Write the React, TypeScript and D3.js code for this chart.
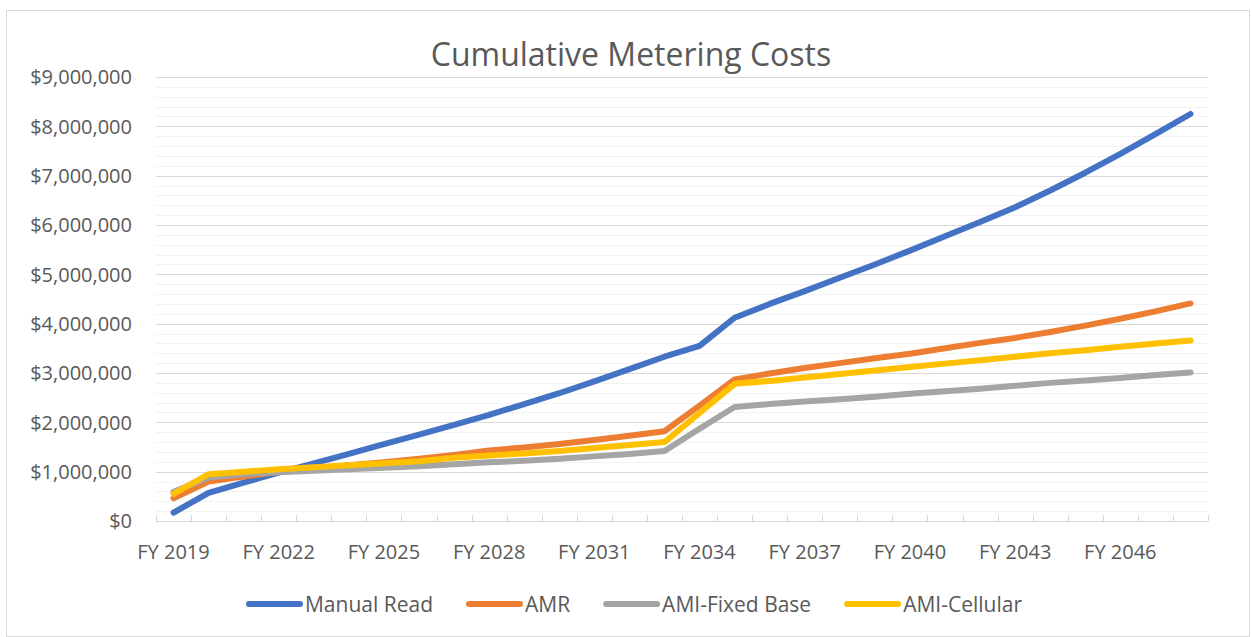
import React from "react";
import * as d3 from "d3";

const categories = [
  "FY 2019", "FY 2020", "FY 2021", "FY 2022", "FY 2023", "FY 2024", "FY 2025", "FY 2026", "FY 2027", "FY 2028",
  "FY 2029", "FY 2030", "FY 2031", "FY 2032", "FY 2033", "FY 2034", "FY 2035", "FY 2036", "FY 2037", "FY 2038",
  "FY 2039", "FY 2040", "FY 2041", "FY 2042", "FY 2043", "FY 2044", "FY 2045", "FY 2046", "FY 2047", "FY 2048",
];

const manualRead = [
  170000, 570000, 780000, 980000, 1170000, 1360000, 1560000, 1750000, 1950000, 2150000,
  2370000, 2590000, 2830000, 3080000, 3330000, 3550000, 4120000, 4400000, 4660000, 4930000,
  5200000, 5480000, 5770000, 6060000, 6360000, 6700000, 7060000, 7440000, 7840000, 8250000,
];
const amr = [
  460000, 800000, 900000, 1000000, 1070000, 1130000, 1190000, 1260000, 1340000, 1430000,
  1490000, 1560000, 1640000, 1730000, 1820000, 2340000, 2870000, 2990000, 3100000, 3200000,
  3300000, 3390000, 3500000, 3610000, 3710000, 3830000, 3960000, 4100000, 4250000, 4410000,
];
const amiFixedBase = [
  590000, 880000, 950000, 990000, 1020000, 1050000, 1080000, 1110000, 1150000, 1190000,
  1220000, 1260000, 1310000, 1360000, 1420000, 1870000, 2310000, 2370000, 2420000, 2470000,
  2520000, 2580000, 2630000, 2680000, 2740000, 2800000, 2850000, 2900000, 2960000, 3010000,
];
const amiCellular = [
  550000, 950000, 1000000, 1050000, 1090000, 1130000, 1170000, 1210000, 1280000, 1330000,
  1370000, 1420000, 1480000, 1540000, 1600000, 2190000, 2780000, 2840000, 2910000, 2980000,
  3050000, 3120000, 3190000, 3260000, 3330000, 3400000, 3460000, 3530000, 3600000, 3660000,
];

const seriesNames = ["Manual Read", "AMR", "AMI-Fixed Base", "AMI-Cellular"];
const seriesColors = ["#4472C4", "#ED7D31", "#A5A5A5", "#FFC000"];
const seriesValues = [manualRead, amr, amiFixedBase, amiCellular];

const yMax = 9000000;
const majorStep = 1000000;
const minorStep = 200000;
const xLabelEvery = 3;

const W = 1252;
const H = 637;
const FONT = "'Open Sans', 'DejaVu Sans', sans-serif";
const TEXT = "#595959";

function measure(text: string, size: number): number {
  if (typeof document === "undefined") return text.length * size * 0.55;
  const c = document.createElement("canvas");
  const ctx = c.getContext("2d");
  if (!ctx) return text.length * size * 0.55;
  ctx.font = `${size}px 'Open Sans'`;
  return ctx.measureText(text).width;
}

export default function App() {
  const plotLeft = 156;
  const plotRight = 1208;
  const plotTop = 77;
  const plotBottom = 521;

  const x = d3.scaleBand<string>().domain(categories).range([plotLeft, plotRight]).padding(0);
  const y = d3.scaleLinear().domain([0, yMax]).range([plotBottom, plotTop]);

  const minorTicks = d3.range(0, yMax + 1, minorStep);
  const majorTicks = d3.range(0, yMax + 1, majorStep);
  const fmt = (v: number) => "$" + d3.format(",")(v);

  const line = d3
    .line<number>()
    .x((_, i) => (x(categories[i]) as number) + x.bandwidth() / 2)
    .y((v) => y(v));

  const boundaries = categories.map((c) => x(c) as number).concat([plotRight]);

  // legend layout
  const legendFont = 21;
  const lineLen = 57;
  const lineGap = 2;
  const itemGap = 33;
  const widths = seriesNames.map((n) => lineLen + lineGap + measure(n, legendFont));
  const totalW = widths.reduce((a, b) => a + b, 0) + itemGap * (seriesNames.length - 1);
  const legendCenter = 634;
  let cursor = legendCenter - totalW / 2;
  const legendItems = seriesNames.map((n, i) => {
    const start = cursor;
    cursor += widths[i] + itemGap;
    return { name: n, color: seriesColors[i], start };
  });
  const legendY = 604;

  return (
    <svg
      width={W}
      height={H}
      style={{ position: "absolute", left: 0, top: 0, background: "#fff" }}
      fontFamily={FONT}
    >
      <rect x={0} y={0} width={W} height={H} fill="#ffffff" />
      <rect x={6.5} y={10.5} width={1243} height={626} fill="none" stroke="#d9d9d9" strokeWidth={1} />

      <text x={631} y={66} textAnchor="middle" fontSize={32} fill={TEXT} fontWeight={400}>
        Cumulative Metering Costs
      </text>

      {/* minor gridlines */}
      {minorTicks
        .filter((t) => t % majorStep !== 0)
        .map((t) => (
          <line key={"mn" + t} x1={plotLeft} x2={plotRight} y1={Math.round(y(t)) + 0.5} y2={Math.round(y(t)) + 0.5} stroke="#f2f2f2" strokeWidth={1} />
        ))}
      {/* major gridlines */}
      {majorTicks
        .filter((t) => t > 0)
        .map((t) => (
          <line key={"mj" + t} x1={plotLeft} x2={plotRight} y1={Math.round(y(t)) + 0.5} y2={Math.round(y(t)) + 0.5} stroke="#d9d9d9" strokeWidth={1} />
        ))}

      {/* x axis line and ticks */}
      <line x1={plotLeft} x2={plotRight} y1={plotBottom + 0.5} y2={plotBottom + 0.5} stroke="#d9d9d9" strokeWidth={1} />
      {boundaries.map((bx, i) => (
        <line key={"tk" + i} x1={Math.round(bx) + 0.5} x2={Math.round(bx) + 0.5} y1={plotBottom - 6} y2={plotBottom} stroke="#d9d9d9" strokeWidth={1} />
      ))}

      {/* y labels */}
      {majorTicks.map((t) => (
        <text key={"yl" + t} x={132} y={y(t)} dy="0.36em" textAnchor="end" fontSize={20} fill={TEXT}>
          {fmt(t)}
        </text>
      ))}

      {/* x labels */}
      {categories.map((c, i) =>
        i % xLabelEvery === 0 ? (
          <text key={"xl" + c} x={(x(c) as number) + x.bandwidth() / 2} y={559} textAnchor="middle" fontSize={20} fill={TEXT}>
            {c}
          </text>
        ) : null
      )}

      {/* series */}
      {seriesValues.map((vals, i) => (
        <path
          key={"s" + i}
          d={line(vals) || ""}
          fill="none"
          stroke={seriesColors[i]}
          strokeWidth={6}
          strokeLinecap="round"
          strokeLinejoin="round"
        />
      ))}

      {/* legend */}
      {legendItems.map((it) => (
        <g key={"lg" + it.name}>
          <line x1={it.start + 3} x2={it.start + lineLen - 3} y1={legendY} y2={legendY} stroke={it.color} strokeWidth={6} strokeLinecap="round" />
          <text x={it.start + lineLen + lineGap} y={legendY} dy="0.36em" fontSize={legendFont} fill={TEXT}>
            {it.name}
          </text>
        </g>
      ))}
    </svg>
  );
}
